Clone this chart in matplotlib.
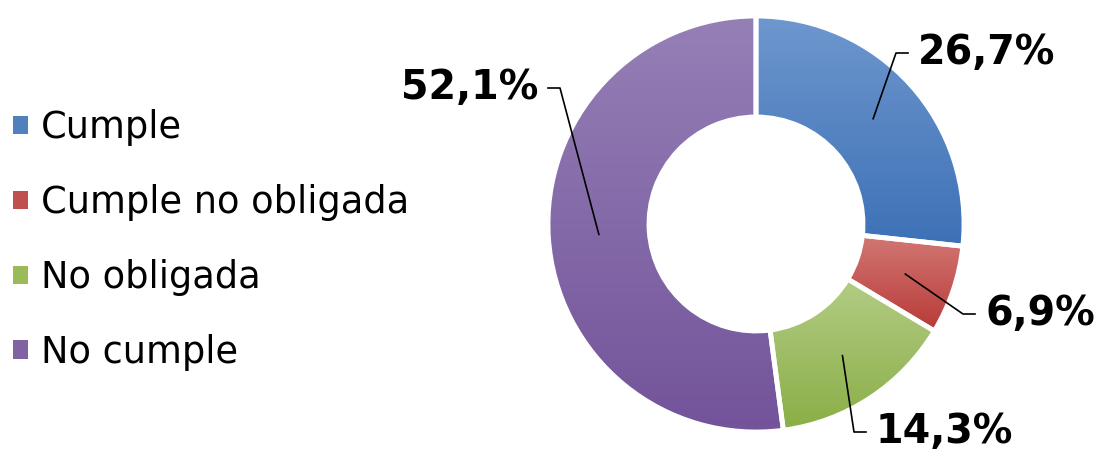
import numpy as np
import matplotlib.pyplot as plt
from matplotlib.patches import Patch
from matplotlib.colors import to_rgb

categories = ['Cumple', 'Cumple no obligada', 'No obligada', 'No cumple']
values = [26.7, 6.9, 14.3, 52.1]
labels = ['26,7%', '6,9%', '14,3%', '52,1%']

# gradient colours, top -> bottom
top_colors = ['#6E97CE', '#D27774', '#B3CC85', '#9580B6']
bottom_colors = ['#3D71B6', '#B83A37', '#8AAE46', '#73539A']
legend_colors = ['#4F81BD', '#C0504D', '#9BBB59', '#8064A2']

W, H = 1101, 451
cx, cy = 756, H - 224
r_out, ring = 208, 101

# label layout: text x, text y (from top), side
label_pos = [(918, 53, 'left'), (985, 314, 'left'), (876, 432, 'left'), (538, 88, 'right')]

fig = plt.figure(figsize=(W / 100, H / 100), dpi=100)
ax = fig.add_axes([0, 0, 1, 1])

wedges, _ = ax.pie(values, center=(cx, cy), radius=r_out, startangle=90,
                   counterclock=False,
                   wedgeprops=dict(width=ring, facecolor='none',
                                   edgecolor='white', linewidth=3.5, zorder=3))

for w, c1, c2 in zip(wedges, top_colors, bottom_colors):
    ext = w.get_path().get_extents()
    t = np.linspace(0, 1, 256)[:, None, None]
    grad = (1 - t) * np.array(to_rgb(c1)) + t * np.array(to_rgb(c2))
    im = ax.imshow(grad, extent=(ext.x0, ext.x1, ext.y0, ext.y1),
                   origin='upper', aspect='auto', zorder=2, interpolation='bilinear')
    im.set_clip_path(w)

# data labels with leader lines
r_mid = r_out - ring / 2
for w, lab, (tx, ty, side) in zip(wedges, labels, label_pos):
    ang = np.deg2rad((w.theta1 + w.theta2) / 2)
    px, py = cx + r_mid * np.cos(ang), cy + r_mid * np.sin(ang)
    ty = H - ty
    s = 1 if side == 'left' else -1
    ax.plot([px, tx - s * 22, tx - s * 10], [py, ty, ty], color='black', lw=1.2, zorder=4)
    ax.text(tx, ty, lab, ha=side, va='center', fontsize=28.5, fontweight='bold', zorder=5)

handles = [Patch(facecolor=c, edgecolor='none') for c in legend_colors]
ax.legend(handles, categories, loc='center left', bbox_to_anchor=(0, (H - 240) / H),
          frameon=False, fontsize=26.5, handlelength=0.4, handleheight=0.4,
          handletextpad=0.36, borderaxespad=0, borderpad=0.36, labelspacing=1.03)

ax.set_xlim(0, W)
ax.set_ylim(0, H)
ax.set_aspect('auto')
ax.axis('off')

fig.savefig('out.png', dpi=100)
